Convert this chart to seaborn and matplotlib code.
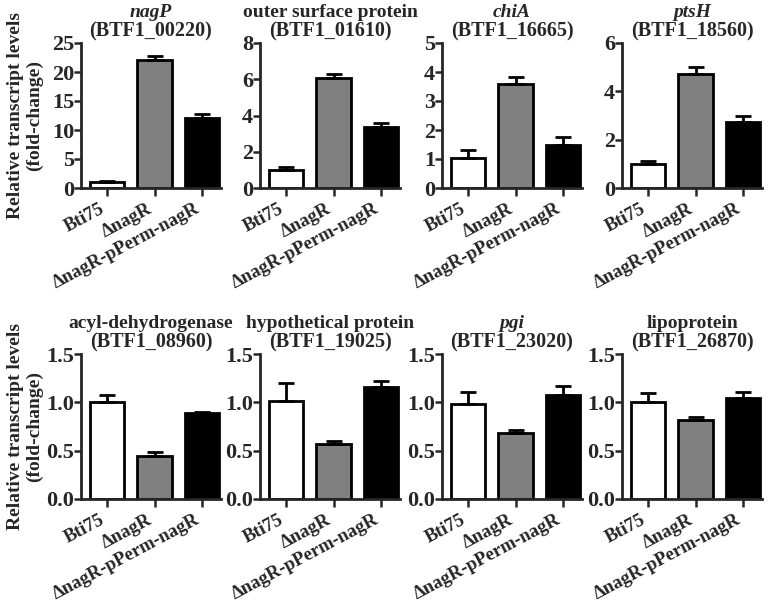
import numpy as np
import matplotlib
matplotlib.use("Agg")
import matplotlib.pyplot as plt
import seaborn as sns

# strains on the x axis of every panel
strains = ["Bti75", "\u0394nagR", "\u0394nagR-pPerm-nagR"]
bar_colors = ["white", "#808080", "black"]

# panel titles: gene name (italic or not) and locus tag
gene_names = ["nagP", "outer surface protein", "chiA", "ptsH",
              "acyl-dehydrogenase", "hypothetical protein", "pgi", "lipoprotein"]
gene_italic = [True, False, True, True, False, False, True, False]
locus_tags = ["(BTF1_00220)", "(BTF1_01610)", "(BTF1_16665)", "(BTF1_18560)",
              "(BTF1_08960)", "(BTF1_19025)", "(BTF1_23020)", "(BTF1_26870)"]

# mean fold-change and upper error (SEM) per panel, order = strains
means = [
    [1.0, 22.0, 12.0],
    [1.0, 6.05, 3.35],
    [1.05, 3.57, 1.5],
    [1.0, 4.72, 2.73],
    [1.0, 0.45, 0.89],
    [1.01, 0.57, 1.16],
    [0.98, 0.68, 1.08],
    [1.0, 0.82, 1.05],
]
errors = [
    [0.15, 0.75, 0.7],
    [0.15, 0.25, 0.25],
    [0.25, 0.25, 0.25],
    [0.12, 0.3, 0.25],
    [0.08, 0.04, 0.01],
    [0.19, 0.03, 0.06],
    [0.13, 0.03, 0.09],
    [0.1, 0.03, 0.06],
]
y_max = [25, 8, 5, 6, 1.5, 1.5, 1.5, 1.5]
y_step = [5, 2, 1, 2, 0.5, 0.5, 0.5, 0.5]

sns.set_style("ticks")
plt.rcParams["font.family"] = ["Liberation Serif", "DejaVu Serif"]
plt.rcParams["font.weight"] = "bold"

fig = plt.figure(figsize=(7.74, 6.11), dpi=100)

W, H = 774.0, 611.0
lefts = [81, 260, 442, 622]
tops = [43, 354]
ax_w, ax_h = 140, 145

for i in range(8):
    row, col = divmod(i, 4)
    ax = fig.add_axes([lefts[col] / W, 1 - (tops[row] + ax_h) / H, ax_w / W, ax_h / H])
    sns.barplot(x=strains, y=means[i], hue=strains, palette=bar_colors,
                edgecolor="black", linewidth=2, width=0.72, legend=False,
                saturation=1, ax=ax)
    ax.errorbar(np.arange(3), means[i], yerr=[np.zeros(3), errors[i]],
                fmt="none", ecolor="black", elinewidth=2, capsize=6, capthick=2,
                zorder=1)
    ax.set_xlim(-0.55, 2.4)
    ax.set_ylim(0, y_max[i])
    ax.set_yticks(np.arange(0, y_max[i] + y_step[i] / 2, y_step[i]))
    if y_step[i] < 1:
        ax.set_yticklabels([f"{v:.1f}" for v in ax.get_yticks()])
    ax.tick_params(axis="y", labelsize=16, width=1.8, length=5, pad=0)
    ax.tick_params(axis="x", labelsize=13.5, width=1.8, length=6, pad=3)
    for lab in ax.get_xticklabels():
        lab.set_rotation(28)
        lab.set_ha("right")
        lab.set_fontweight("bold")
    for lab in ax.get_yticklabels():
        lab.set_fontweight("bold")
    for s in ["left", "bottom"]:
        ax.spines[s].set_linewidth(2)
    sns.despine(ax=ax)
    ax.set_xlabel("")
    ax.set_ylabel("")

    ax.text(0.5, 1.01, locus_tags[i], transform=ax.transAxes, ha="center",
            va="bottom", fontsize=14.5, fontweight="bold")
    ax.text(0.5, 1.15, gene_names[i], transform=ax.transAxes, ha="center",
            va="bottom", fontsize=14, fontweight="bold",
            style="italic" if gene_italic[i] else "normal")

for row in range(2):
    yc = 1 - (tops[row] + ax_h / 2) / H
    fig.text(25 / W, yc, "Relative transcript levels\n(fold-change)",
             rotation=90, ha="center", va="center", fontsize=14,
             fontweight="bold", multialignment="center", linespacing=1.1)

fig.savefig("out.png", dpi=100)
